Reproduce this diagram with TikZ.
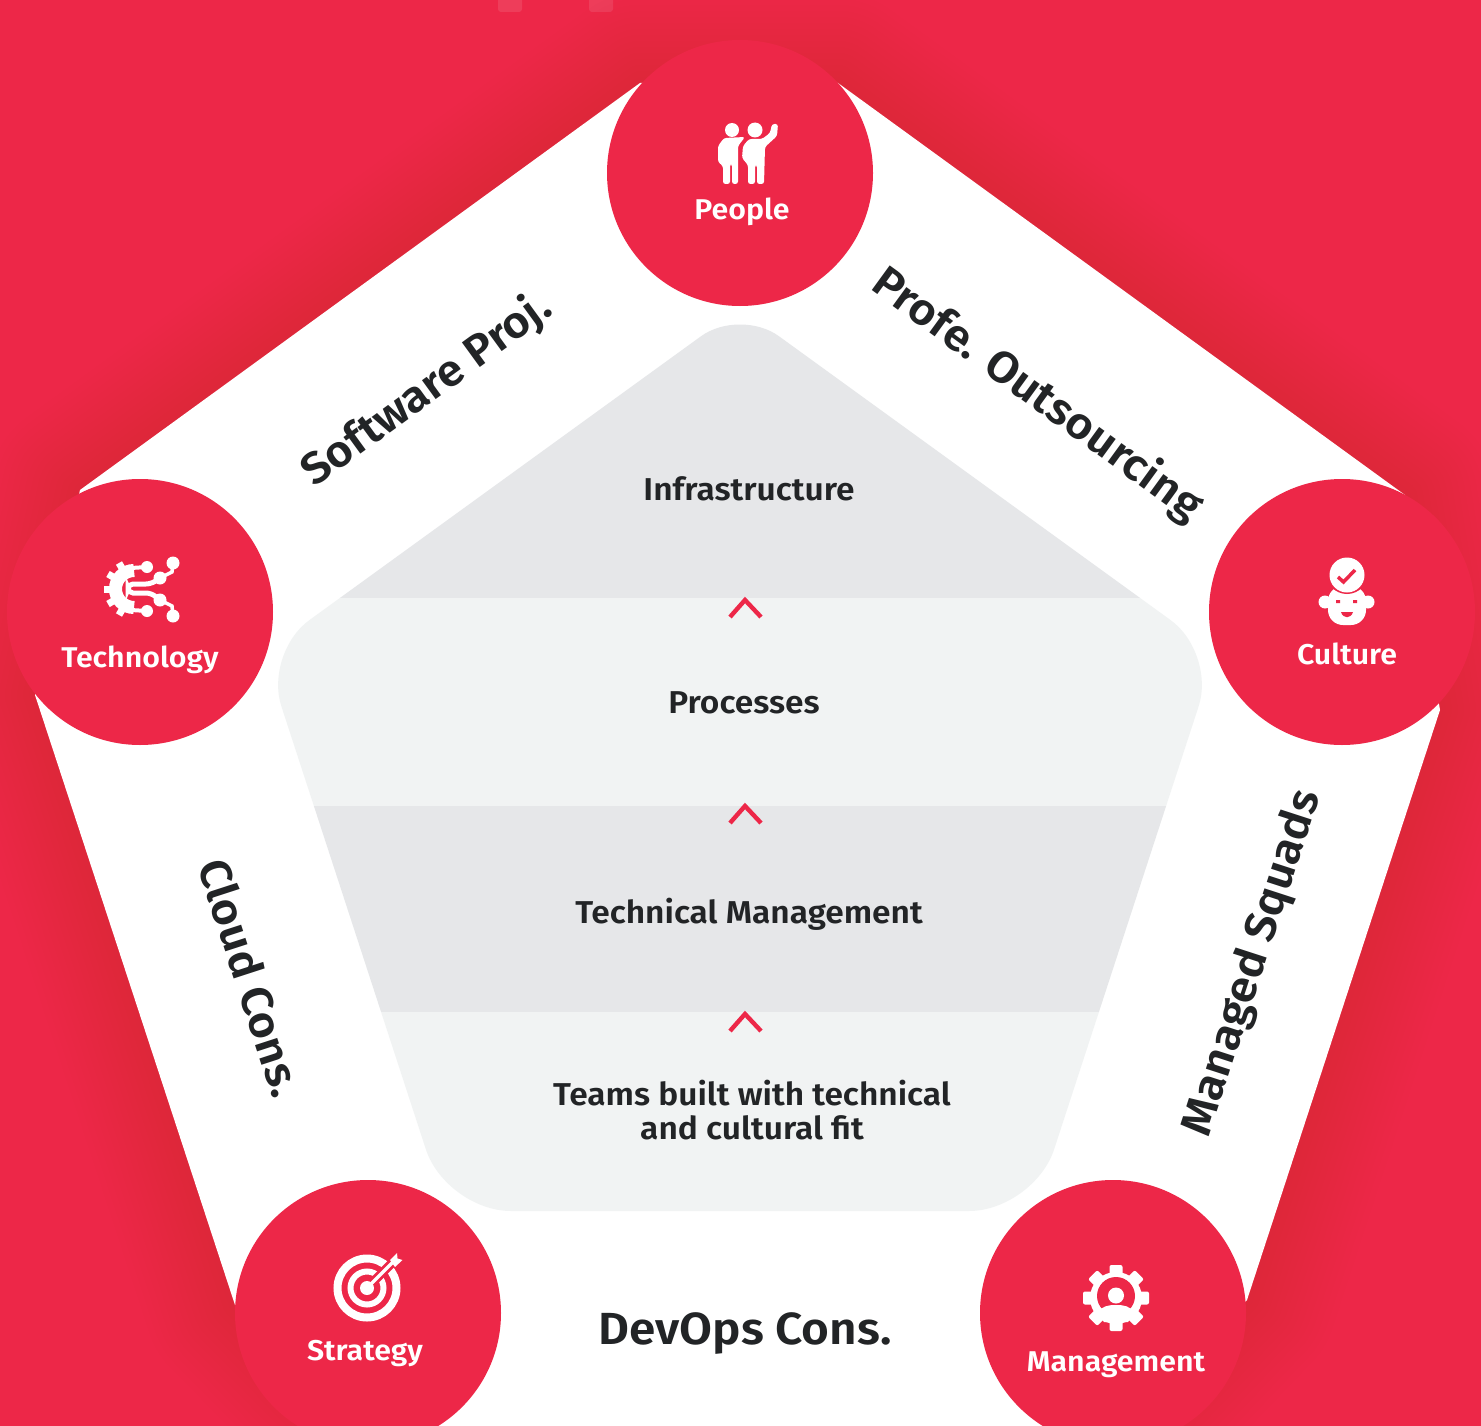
\documentclass[tikz,border=0pt]{standalone}
\usepackage{fontspec}
\setmainfont{Fira Sans}[BoldFont={Fira Sans SemiBold},FakeStretch=1.06]
\usetikzlibrary{arrows, positioning}
\definecolor{pentred}{HTML}{ED2748}
\definecolor{shadowred}{HTML}{6E2A3A}
\definecolor{bandgrey}{HTML}{E6E7E9}
\definecolor{bandlight}{HTML}{F1F3F3}
\definecolor{inktext}{HTML}{222426}

\begin{document}
\begin{tikzpicture}[x=1pt,y=-1pt,line cap=round]
    \tikzstyle{hub}=[shape=circle, fill=pentred, draw=none, minimum size=266pt, inner sep=0pt]
    \tikzstyle{hubtext}=[font=\bfseries\fontsize{28.6}{34}\selectfont, text=white, inner sep=0pt]
    \tikzstyle{side}=[font=\bfseries\fontsize{44}{50}\selectfont, text=inktext, inner sep=0pt]
    \tikzstyle{band}=[font=\bfseries\fontsize{31.6}{34}\selectfont, text=inktext, inner sep=0pt, align=center]
    \tikzstyle{chevron}=[draw=pentred, line width=4.4pt, line cap=butt, fill=none]

    \useasboundingbox (0,0) rectangle (1481,1426);
    \clip (0,0) rectangle (1481,1426);
    \fill[pentred] (0,0) rectangle (1481,1426);
    \fill[white, opacity=0.1, rounded corners=3pt] (498,-6) rectangle (522,12);
    \fill[white, opacity=0.1, rounded corners=3pt] (589,-6) rectangle (613,12);

    % soft shadow round the white shape
    \foreach \w in {12,24,...,180}
        \draw[shadowred, opacity=0.009, line width=\w pt, line join=round]
            (640,83) -- (838,83) -- (1405,495) -- (1440,710) -- (1247,1300) -- (1113,1440) -- (368,1440) -- (235,1305) -- (35,695) -- (80,490) -- cycle;
    \fill[white] (640,83) -- (838,83) -- (1405,495) -- (1440,710) -- (1247,1300) -- (1113,1440) -- (368,1440) -- (235,1305) -- (35,695) -- (80,490) -- cycle;

    % inner rounded pentagon, four bands
    \begin{scope}
        \clip (740,1211) [rounded corners=65pt] -- (446,1211) [rounded corners=56pt] -- (264,653) [rounded corners=48pt] -- (740,308)
            [rounded corners=56pt] -- (1216,653) [rounded corners=65pt] -- (1034,1211) -- cycle;
        \fill[bandgrey]  (200,280) rectangle (1280,598);
        \fill[bandlight] (200,598) rectangle (1280,806);
        \fill[bandgrey]  (200,806) rectangle (1280,1012);
        \fill[bandlight] (200,1012) rectangle (1280,1230);
    \end{scope}

    \node[hub] (people)     at (740,173)  {};
    \node[hub] (technology) at (140,612)  {};
    \node[hub] (culture)    at (1342,612) {};
    \node[hub] (strategy)   at (368,1313) {};
    \node[hub] (management) at (1113,1313) {};

    \node[hubtext] (peoplet)     at (742,212)  {People};
    \node[hubtext] (technologyt) at (140,660)  {Technology};
    \node[hubtext] (culturet)    at (1347,654) {Culture};
    \node[hubtext] (strategyt)   at (365,1354) {Strategy};
    \node[hubtext] (managementt) at (1116,1365) {Management};

    \node[side, rotate=36]  (software) at (427,390)  {Software Proj.};
    \node[side, rotate=-36] (outsource) at (1037,395) {Profe. Outsourcing};
    \node[side, rotate=72]  (squads) at (1253,963)   {Managed Squads};
    \node[side, rotate=-72] (cloud) at (251,978)     {Cloud Cons.};
    \node[side, font=\bfseries\fontsize{45}{50}\selectfont] (devops) at (745,1334) {DevOps Cons.};

    \node[band] (infra) at (749,489)  {Infrastructure};
    \node[band] (proc)  at (744,703)  {Processes};
    \node[band] (tech)  at (749,914)  {Technical Management};
    \node[band] (teams) at (752,1110) {Teams built with technical\\and cultural fit};

    \draw[chevron] (730,617) -- (745,600) -- (761,617);
    \draw[chevron] (730,823) -- (745,806) -- (761,823);
    \draw[chevron] (730,1031) -- (745,1014) -- (761,1031);

    %people icon
    \fill[white] (732,130) circle[radius=7] (755,130) circle[radius=7.5];
    \fill[white, rounded corners=2.5pt] (718,162) -- (718,146) -- (724,138) -- (745,137) -- (738,146) -- (738,184)
        -- (732,184) -- (732,164) -- (730,164) -- (730,184) -- (723,184) -- (723,166) -- cycle;
    \fill[white, rounded corners=2.5pt] (742,158) -- (743,146) -- (749,139) -- (762,139) -- (770,133) -- (772,124)
        -- (778,124) -- (777,136) -- (765,147) -- (764,184) -- (757,184) -- (757,165) -- (755,165) -- (755,184)
        -- (748,184) -- (748,165) -- cycle;

    %technology icon
    \draw[white, line width=13pt, line cap=butt] (134,570.5) arc[start angle=270, end angle=90, radius=18.5];
    \foreach \a in {120,150,180,210,240}
        \fill[white, shift={(134,589)}, rotate=\a] (22,-3.5) rectangle (30,3.5);
    \draw[white, line width=4pt] (131,568) -- (147,567);
    \draw[white, line width=4pt] (131,610) -- (147,611);
    \draw[white, line width=5pt, rounded corners=5pt, line cap=butt] (160,578) -- (151,584) -- (128,584) -- (128,593) -- (151,593) -- (160,600);
    \draw[white, line width=3.5pt] (173,563) -- (172,572) -- (160,578);
    \draw[white, line width=3.5pt] (173,616) -- (172,606) -- (160,600);
    \fill[white] (147,567) circle[radius=6] (173,563) circle[radius=6.5] (160,578) circle[radius=6.5]
        (160,600) circle[radius=6.5] (147,611) circle[radius=6] (173,616) circle[radius=6.5];

    %culture icon
    \fill[white] (1325,602) circle[radius=6.5] (1368,602) circle[radius=6.5];
    \fill[white, rounded corners=15pt] (1328,586) rectangle (1366,625);
    \fill[pentred] (1347,573) circle[radius=21];
    \fill[white] (1347,575) circle[radius=17.5];
    \draw[pentred, line width=3.5pt, line cap=butt] (1338,577) -- (1343.5,582) -- (1355,570);
    \fill[pentred] (1336,600) rectangle (1340,603) (1353,600) rectangle (1357,603);
    \fill[pentred] (1341,612) .. controls (1343,619) and (1351,619) .. (1353,612) -- cycle;

    %strategy icon
    \draw[white, line width=8pt] (367,1288) circle[radius=29.5];
    \draw[white, line width=6pt] (367,1288) circle[radius=16.5];
    \fill[white] (367,1288) circle[radius=7];
    \draw[pentred, line width=9pt, line cap=butt] (372,1283) -- (396,1259);
    \draw[white, line width=3.5pt] (367,1288) -- (395,1260);
    \fill[white] (390,1260) -- (397,1253) -- (397.5,1258.5) -- (402.5,1260) -- (395,1267) -- cycle;

    %management icon
    \fill[white] (1116,1298) circle[radius=26];
    \foreach \a in {0,45,...,315}
        \fill[white, shift={(1116,1298)}, rotate=\a, rounded corners=2pt] (20,-6.5) rectangle (33,6.5);
    \fill[pentred] (1116,1296) circle[radius=19];
    \fill[white] (1116,1295.5) circle[radius=8];
    \fill[white] (1097,1313) .. controls (1102,1306) and (1108,1305) .. (1116,1305) .. controls (1124,1305) and (1130,1306) .. (1135,1313) -- (1128,1322) -- (1104,1322) -- cycle;

\end{tikzpicture}
\end{document}
